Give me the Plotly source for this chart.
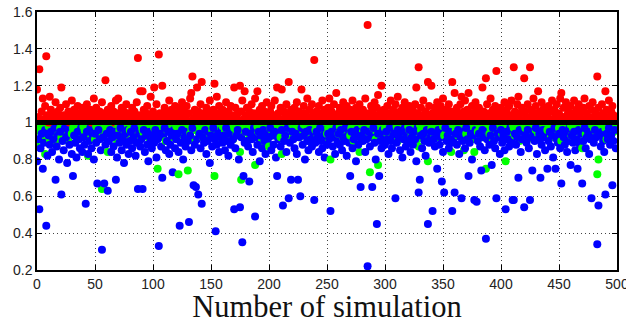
import plotly.graph_objects as go

sims = list(range(500))

red_ratio = [
1.18,1.03,1.29,1.01,1.06,1.13,1.02,1.09,1.36,1.04,1.00,1.14,1.07,1.02,1.05,1.01,1.11,1.03,1.06,1.02,
1.08,1.19,1.01,1.04,1.03,1.10,1.02,1.06,1.00,1.05,1.12,1.03,1.07,1.01,1.04,1.09,1.02,1.05,1.01,1.08,
1.03,1.06,1.01,1.10,1.04,1.02,1.07,1.00,1.05,1.13,1.03,1.08,1.01,1.04,1.06,1.02,1.11,1.03,1.05,1.23,
1.01,1.07,1.04,1.02,1.09,1.03,1.06,1.00,1.12,1.05,1.13,1.02,1.04,1.08,1.01,1.06,1.03,1.10,1.02,1.05,
1.04,1.01,1.08,1.03,1.06,1.02,1.11,1.35,1.04,1.17,1.01,1.17,1.07,1.03,1.05,1.09,1.02,1.04,1.14,1.01,
1.06,1.19,1.03,1.10,1.02,1.37,1.05,1.01,1.20,1.04,1.08,1.02,1.06,1.03,1.12,1.01,1.07,1.04,1.02,1.09,
1.03,1.05,1.01,1.08,1.04,1.11,1.02,1.06,1.03,1.09,1.01,1.05,1.13,1.16,1.25,1.02,1.07,1.04,1.19,1.06,
1.01,1.10,1.22,1.03,1.05,1.02,1.08,1.04,1.01,1.12,1.06,1.03,1.07,1.21,1.02,1.14,1.05,1.09,1.01,1.04,
1.07,1.02,1.05,1.11,1.03,1.06,1.01,1.09,1.04,1.02,1.19,1.08,1.03,1.05,1.01,1.20,1.06,1.12,1.02,1.17,
1.04,1.08,1.01,1.06,1.03,1.10,1.02,1.05,1.13,1.01,1.17,1.04,1.07,1.02,1.09,1.03,1.06,1.01,1.11,1.04,
1.02,1.06,1.09,1.01,1.04,1.12,1.03,1.19,1.05,1.01,1.08,1.18,1.02,1.06,1.03,1.10,1.04,1.22,1.01,1.07,
1.05,1.02,1.08,1.03,1.11,1.01,1.06,1.04,1.18,1.02,1.09,1.05,1.01,1.13,1.03,1.07,1.02,1.10,1.04,1.34,
1.01,1.06,1.03,1.09,1.02,1.05,1.12,1.01,1.07,1.04,1.02,1.08,1.13,1.03,1.06,1.01,1.10,1.04,1.16,1.02,
1.05,1.08,1.01,1.03,1.11,1.06,1.02,1.09,1.04,1.01,1.07,1.03,1.12,1.05,1.02,1.08,1.01,1.06,1.10,1.03,
1.02,1.07,1.04,1.13,1.01,1.53,1.05,1.03,1.09,1.06,1.02,1.11,1.04,1.08,1.15,1.01,1.06,1.20,1.03,1.07,
1.04,1.01,1.09,1.05,1.02,1.12,1.03,1.07,1.01,1.10,1.05,1.14,1.02,1.06,1.04,1.08,1.01,1.11,1.03,1.06,
1.02,1.09,1.04,1.01,1.07,1.03,1.10,1.19,1.05,1.30,1.02,1.08,1.04,1.12,1.01,1.06,1.03,1.22,1.09,1.02,
1.20,1.05,1.01,1.08,1.03,1.11,1.06,1.02,1.09,1.04,1.13,1.01,1.07,1.05,1.02,1.10,1.03,1.06,1.22,1.04,
1.16,1.02,1.08,1.05,1.01,1.10,1.14,1.03,1.06,1.12,1.02,1.07,1.16,1.04,1.01,1.09,1.05,1.03,1.11,1.06,
1.02,1.08,1.04,1.01,1.19,1.06,1.03,1.24,1.10,1.02,1.05,1.13,1.01,1.07,1.04,1.09,1.28,1.02,1.06,1.03,
1.08,1.01,1.05,1.11,1.03,1.07,1.02,1.09,1.04,1.12,1.01,1.30,1.06,1.03,1.10,1.14,1.02,1.05,1.08,1.01,
1.24,1.06,1.03,1.10,1.02,1.30,1.07,1.04,1.13,1.01,1.09,1.05,1.17,1.02,1.06,1.11,1.03,1.08,1.01,1.05,
1.03,1.09,1.01,1.06,1.12,1.02,1.07,1.04,1.10,1.01,1.05,1.13,1.16,1.03,1.08,1.02,1.11,1.04,1.06,1.01,
1.09,1.02,1.05,1.12,1.03,1.07,1.01,1.10,1.04,1.06,1.02,1.08,1.13,1.01,1.05,1.03,1.09,1.02,1.07,1.11,
1.03,1.06,1.01,1.25,1.08,1.04,1.02,1.10,1.05,1.01,1.17,1.07,1.03,1.12,1.02,1.06,1.09,1.04,1.01,1.02,
]

blue_ratio = [
0.79,0.91,0.53,0.86,0.94,0.75,0.89,0.96,0.44,0.82,0.93,0.88,0.95,0.84,0.91,0.97,0.69,0.87,0.93,0.80,
0.95,0.61,0.90,0.85,0.97,0.92,0.78,0.94,0.88,0.96,0.83,0.71,0.93,0.89,0.81,0.95,0.91,0.86,0.97,0.84,
0.92,0.88,0.56,0.95,0.83,0.90,0.97,0.86,0.93,0.80,0.94,0.89,0.67,0.96,0.91,0.85,0.31,0.92,0.67,0.88,
0.94,0.63,0.90,0.96,0.84,0.92,0.87,0.95,0.69,0.81,0.93,0.89,0.97,0.85,0.91,0.78,0.94,0.88,0.96,0.83,
0.90,0.95,0.86,0.92,0.97,0.82,0.89,0.64,0.94,0.87,0.91,0.64,0.96,0.84,0.93,0.88,0.79,0.95,0.90,0.86,
0.93,0.89,0.96,0.81,0.91,0.33,0.94,0.87,0.70,0.92,0.97,0.85,0.90,0.95,0.83,0.88,0.93,0.73,0.96,0.86,
0.91,0.94,0.84,0.44,0.89,0.96,0.80,0.92,0.87,0.95,0.90,0.46,0.93,0.85,0.97,0.66,0.88,0.65,0.91,0.61,
0.94,0.86,0.56,0.92,0.89,0.96,0.83,0.90,0.95,0.78,0.93,0.87,0.97,0.91,0.41,0.88,0.94,0.84,0.92,0.96,
0.89,0.93,0.85,0.97,0.90,0.82,0.94,0.88,0.95,0.91,0.53,0.86,0.93,0.96,0.80,0.54,0.92,0.35,0.71,0.89,
0.95,0.90,0.87,0.68,0.94,0.91,0.84,0.97,0.49,0.92,0.88,0.95,0.79,0.93,0.86,0.96,0.90,0.83,0.94,0.89,
0.92,0.97,0.85,0.93,0.88,0.95,0.81,0.71,0.91,0.94,0.87,0.96,0.55,0.90,0.93,0.84,0.97,0.59,0.89,0.69,
0.95,0.91,0.86,0.94,0.83,0.69,0.92,0.60,0.97,0.88,0.93,0.80,0.95,0.90,0.85,0.96,0.91,0.87,0.94,0.58,
0.89,0.95,0.92,0.84,0.97,0.90,0.86,0.93,0.81,0.96,0.88,0.94,0.91,0.52,0.95,0.87,0.92,0.83,0.97,0.90,
0.94,0.88,0.96,0.85,0.92,0.90,0.97,0.82,0.93,0.89,0.71,0.95,0.86,0.91,0.94,0.79,0.96,0.88,0.92,0.65,
0.93,0.90,0.96,0.84,0.91,0.22,0.95,0.87,0.92,0.65,0.97,0.89,0.80,0.45,0.94,0.71,0.90,0.86,0.96,0.92,
0.88,0.95,0.91,0.83,0.97,0.90,0.86,0.93,0.94,0.59,0.89,0.96,0.92,0.85,0.95,0.81,0.91,0.97,0.87,0.93,
0.90,0.96,0.84,0.92,0.88,0.95,0.91,0.79,0.97,0.62,0.69,0.93,0.86,0.94,0.90,0.82,0.96,0.45,0.89,0.92,
0.95,0.52,0.91,0.87,0.94,0.75,0.96,0.88,0.92,0.68,0.84,0.62,0.97,0.90,0.93,0.86,0.95,0.89,0.52,0.91,
0.62,0.94,0.88,0.96,0.83,0.92,0.59,0.90,0.95,0.86,0.97,0.91,0.71,0.89,0.94,0.80,0.93,0.58,0.96,0.57,
0.90,0.94,0.87,0.74,0.96,0.92,0.85,0.37,0.91,0.95,0.88,0.93,0.77,0.97,0.90,0.86,0.59,0.94,0.92,0.83,
0.96,0.89,0.93,0.85,0.53,0.95,0.91,0.87,0.97,0.90,0.58,0.58,0.94,0.88,0.92,0.70,0.96,0.84,0.91,0.95,
0.54,0.93,0.89,0.96,0.86,0.58,0.92,0.74,0.95,0.90,0.97,0.83,0.91,0.94,0.70,0.88,0.96,0.92,0.85,0.93,
0.75,0.90,0.95,0.87,0.93,0.81,0.97,0.75,0.91,0.89,0.94,0.86,0.67,0.96,0.92,0.88,0.95,0.84,0.90,0.97,
0.77,0.93,0.89,0.95,0.85,0.91,0.75,0.96,0.88,0.94,0.67,0.90,0.97,0.86,0.92,0.95,0.83,0.91,0.59,0.94,
0.89,0.96,0.92,0.34,0.55,0.93,0.87,0.95,0.90,0.84,0.61,0.94,0.91,0.97,0.88,0.93,0.66,0.90,0.96,0.86,
]

green_ratio = [
0.87,0.99,0.97,0.95,0.99,0.98,0.93,0.83,0.99,0.96,0.98,0.91,0.99,0.97,0.94,0.99,0.89,0.98,0.96,0.99,
0.97,0.92,0.99,0.98,0.95,0.99,0.97,0.90,0.98,0.99,0.94,0.97,0.99,0.96,0.98,0.92,0.99,0.97,0.95,0.99,
0.98,0.96,0.99,0.93,0.82,0.98,0.99,0.95,0.97,0.99,0.91,0.98,0.96,0.99,0.94,0.98,0.64,0.99,0.97,0.95,
0.99,0.84,0.98,0.96,0.99,0.93,0.97,0.99,0.98,0.90,0.99,0.96,0.98,0.94,0.99,0.97,0.92,0.99,0.98,0.95,
0.96,0.99,0.98,0.93,0.99,0.97,0.95,0.99,0.91,0.98,0.99,0.96,0.94,0.99,0.97,0.98,0.92,0.99,0.95,0.98,
0.99,0.97,0.94,0.99,0.75,0.98,0.96,0.99,0.93,0.97,0.99,0.90,0.98,0.99,0.95,0.97,0.99,0.92,0.98,0.96,
0.98,0.99,0.72,0.95,0.99,0.97,0.93,0.98,0.99,0.96,0.74,0.99,0.94,0.97,0.99,0.91,0.98,0.96,0.99,0.95,
0.99,0.96,0.98,0.92,0.99,0.97,0.95,0.99,0.98,0.93,0.99,0.96,0.97,0.71,0.99,0.94,0.98,0.99,0.90,0.97,
0.98,0.99,0.95,0.97,0.99,0.93,0.98,0.96,0.99,0.91,0.97,0.99,0.94,0.98,0.99,0.84,0.69,0.96,0.99,0.97,
0.95,0.99,0.98,0.92,0.97,0.99,0.96,0.94,0.77,0.99,0.98,0.95,0.99,0.97,0.90,0.98,0.99,0.93,0.96,0.99,
0.87,0.97,0.99,0.95,0.98,0.93,0.99,0.96,0.97,0.99,0.92,0.83,0.98,0.99,0.94,0.97,0.99,0.96,0.91,0.98,
0.99,0.94,0.97,0.99,0.96,0.98,0.92,0.99,0.95,0.97,0.99,0.93,0.98,0.96,0.99,0.90,0.97,0.99,0.94,0.98,
0.96,0.99,0.93,0.98,0.97,0.99,0.95,0.91,0.99,0.98,0.94,0.97,0.99,0.80,0.96,0.99,0.92,0.98,0.97,0.99,
0.94,0.98,0.99,0.96,0.92,0.99,0.97,0.95,0.98,0.99,0.93,0.97,0.99,0.90,0.98,0.96,0.99,0.94,0.84,0.97,
0.99,0.95,0.97,0.99,0.93,0.98,0.96,0.73,0.99,0.94,0.97,0.99,0.91,0.98,0.77,0.99,0.95,0.97,0.99,0.92,
0.97,0.99,0.94,0.98,0.96,0.99,0.92,0.97,0.99,0.95,0.98,0.90,0.99,0.96,0.97,0.99,0.93,0.98,0.99,0.94,
0.98,0.96,0.99,0.93,0.97,0.99,0.95,0.98,0.91,0.87,0.99,0.96,0.97,0.99,0.94,0.98,0.92,0.79,0.99,0.96,
0.97,0.99,0.94,0.98,0.96,0.99,0.92,0.97,0.99,0.95,0.98,0.93,0.99,0.96,0.97,0.90,0.99,0.84,0.98,0.95,
0.99,0.96,0.98,0.93,0.99,0.97,0.95,0.99,0.85,0.98,0.94,0.99,0.96,0.97,0.99,0.91,0.98,0.84,0.99,0.96,
0.95,0.99,0.97,0.98,0.92,0.99,0.96,0.75,0.98,0.99,0.94,0.97,0.99,0.90,0.98,0.96,0.99,0.93,0.97,0.99,
0.98,0.94,0.99,0.96,0.79,0.97,0.99,0.92,0.98,0.95,0.99,0.97,0.93,0.99,0.96,0.98,0.90,0.99,0.97,0.95,
0.99,0.97,0.93,0.98,0.99,0.95,0.97,0.99,0.91,0.98,0.96,0.99,0.94,0.97,0.99,0.92,0.98,0.96,0.99,0.94,
0.96,0.99,0.98,0.92,0.97,0.99,0.95,0.98,0.99,0.93,0.97,0.99,0.90,0.96,0.98,0.99,0.94,0.97,0.99,0.95,
0.99,0.93,0.97,0.99,0.96,0.98,0.91,0.99,0.95,0.97,0.86,0.99,0.98,0.94,0.96,0.99,0.92,0.98,0.97,0.99,
0.97,0.99,0.95,0.72,0.80,0.98,0.99,0.93,0.96,0.99,0.97,0.91,0.98,0.99,0.94,0.97,0.99,0.95,0.98,0.96,
]

reference_level = 1.0
x_ticks = [0, 50, 100, 150, 200, 250, 300, 350, 400, 450, 500]
y_ticks = [0.2, 0.4, 0.6, 0.8, 1.0, 1.2, 1.4, 1.6]
y_tick_labels = ["0.2", "0.4", "0.6", "0.8", "1", "1.2", "1.4", "1.6"]
x_title = "Number of simulation"

series = [
    (green_ratio, "#00FF00"),
    (blue_ratio, "#0000FF"),
    (red_ratio, "#FF0000"),
]

fig = go.Figure()
mk = dict(size=8, line=dict(width=0))
# draw simulations in small blocks so later simulations sit on top, as in a per-run plotting loop
block = 10
for start in range(0, len(sims), block):
    xs = sims[start:start + block]
    for values, color in series:
        fig.add_trace(go.Scatter(x=xs, y=values[start:start + block], mode="markers",
                                 marker=dict(color=color, **mk)))
fig.add_trace(go.Scatter(x=[x_ticks[0], x_ticks[-1]], y=[reference_level, reference_level],
                         mode="lines", line=dict(color="#000000", width=5)))

axis_common = dict(
    showline=True, linecolor="black", linewidth=1.5, mirror="ticks",
    ticks="inside", ticklen=5, tickwidth=1, tickcolor="black",
    showgrid=True, gridcolor="#444444", gridwidth=1, griddash="1px,3px",
    zeroline=False, ticklabeloverflow="allow", automargin=False,
    tickfont=dict(family="Liberation Sans, Arial, sans-serif", size=14, color="#222222"),
)

fig.update_layout(
    width=626, height=324,
    margin=dict(l=37, r=9, t=12, b=54),
    paper_bgcolor="white", plot_bgcolor="white",
    showlegend=False,
    xaxis=dict(range=[0, 500], tickvals=x_ticks, **axis_common,
               title=dict(text=x_title, standoff=2,
                          font=dict(family="Liberation Serif, serif", size=30.5, color="#111111"))),
    yaxis=dict(range=[0.2, 1.6], tickvals=y_ticks, ticktext=y_tick_labels, **axis_common),
)

fig.write_html("out.html")
